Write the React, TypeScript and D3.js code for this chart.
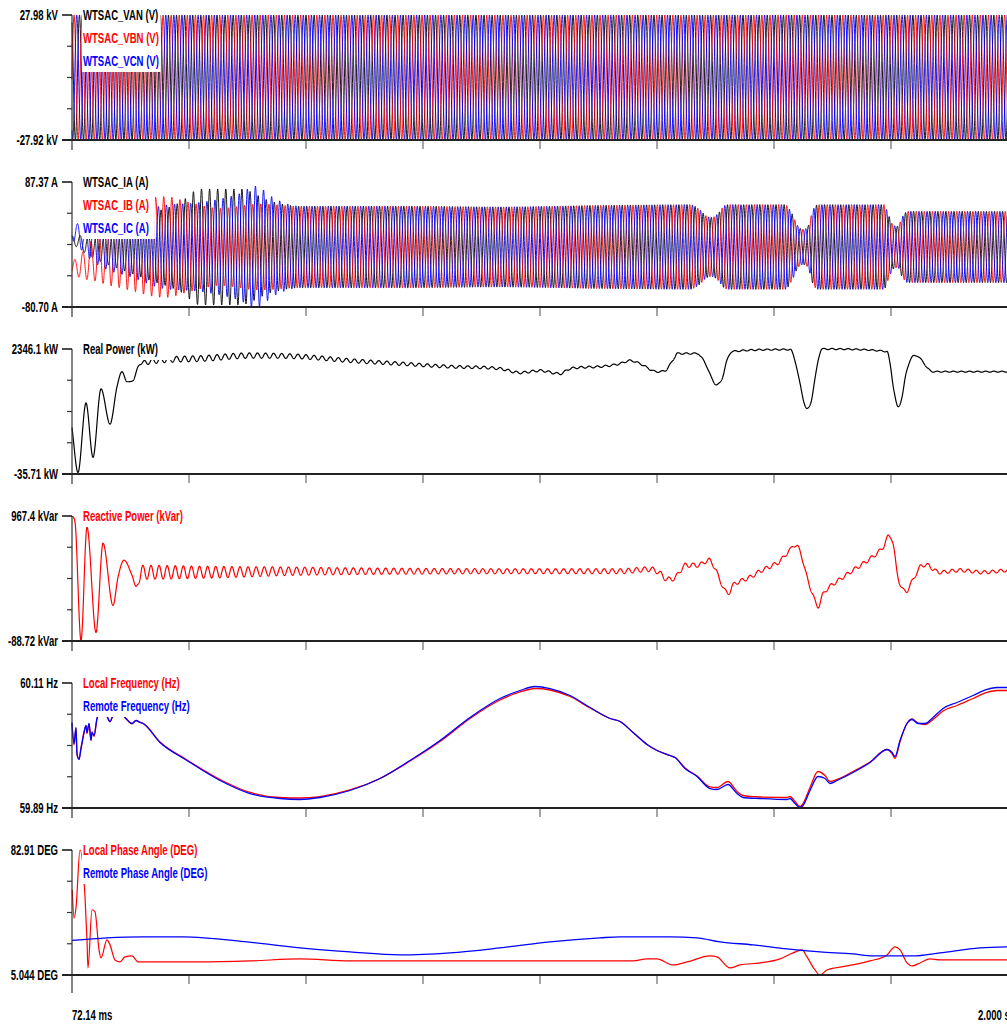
import React from 'react';
import * as d3 from 'd3';

type P = [number, number];

// ---------- time axis ----------
const T_START_MS = 72.14;
const T_END_MS = 2000;
const TIME_DIVISIONS = 8;
const TIME_LABELS = ['72.14 ms', '2.000 s'];
const NOMINAL_HZ = 60;

// ---------- y ranges & labels ----------
const Y_MAX = [27.98, 87.37, 2346.1, 967.4, 60.11, 82.91];
const Y_MIN = [-27.92, -80.7, -35.71, -88.72, 59.89, 5.044];
const Y_MAX_LABELS = ['27.98 kV', '87.37 A', '2346.1 kW', '967.4 kVar', '60.11 Hz', '82.91 DEG'];
const Y_MIN_LABELS = ['-27.92 kV', '-80.70 A', '-35.71 kW', '-88.72 kVar', '59.89 Hz', '5.044 DEG'];

const LEGEND_NAMES = [
  ['WTSAC_VAN (V)', 'WTSAC_VBN (V)', 'WTSAC_VCN (V)'],
  ['WTSAC_IA (A)', 'WTSAC_IB (A)', 'WTSAC_IC (A)'],
  ['Real Power (kW)'],
  ['Reactive Power (kVar)'],
  ['Local Frequency (Hz)', 'Remote Frequency (Hz)'],
  ['Local Phase Angle (DEG)', 'Remote Phase Angle (DEG)'],
];

// ---------- voltages (kV) ----------
const V_PHASE_DEG = [0, -120, 120];
const V_CENTER_KV = 0.03;
const V_AMPLITUDE_KV: P[] = [[72.14, 27.95], [2000, 27.95]];

// ---------- currents (A): amplitude envelopes (ms, A) and DC offsets ----------
const I_PHASE_DEG = [-30, -150, 90];
const IA_AMP: P[] = [[72.1, 5], [109.2, 15], [171, 30], [232.8, 45], [294.6, 60], [335.8, 78], [418.2, 78], [480, 62], [541.8, 55]];
const IB_AMP: P[] = [[72.1, 8], [109.2, 25], [150.4, 45], [212.2, 62], [263.7, 68], [315.2, 60], [377, 52], [459.4, 58], [541.8, 55]];
const IC_AMP: P[] = [[72.1, 10], [109.2, 25], [191.6, 40], [253.4, 55], [335.8, 60], [418.2, 72], [449.1, 82], [490.3, 65], [541.8, 55]];
const I_AMP_TAIL: P[] = [[582.9, 55], [747.7, 55], [953.7, 54], [1159.7, 56], [1345, 57], [1365.6, 50], [1378, 42], [1390.3, 40], [1402.7, 45], [1415, 55], [1427.4, 57], [1540.7, 57], [1555.1, 45], [1567.5, 28], [1577.8, 24], [1588.1, 28], [1598.4, 50], [1608.7, 57], [1744.6, 57], [1752.9, 45], [1763.2, 30], [1773.5, 28], [1781.7, 40], [1794.1, 48], [1998, 48]];
const IA_DC: P[] = [[72.1, 10], [92.7, 5], [150.4, 0], [2000, 0]];
const IB_DC: P[] = [[72.1, -28], [92.7, -25], [129.8, -12], [171, -3], [212.2, 0], [2000, 0]];
const IC_DC: P[] = [[72.1, 20], [92.7, 14], [129.8, 4], [171, 0], [2000, 0]];

// ---------- real power (ms, kW) + 60 Hz ripple amplitude (ms, kW) ----------
const REAL_POWER: P[] = [[72, 857], [84.5, -7], [101, 1318], [115.4, 281], [131.9, 1587], [150.4, 915], [164.8, 1626], [175.1, 1914], [185.4, 1722], [197.8, 1741], [208.1, 2010], [222.5, 2087], [335.8, 2164], [438.8, 2221], [541.8, 2202], [644.7, 2125], [747.7, 2067], [850.7, 2010], [953.7, 1971], [994.9, 1895], [1036, 1933], [1077.3, 1875], [1097.9, 1971], [1159.7, 2010], [1200.9, 2067], [1221.5, 2125], [1242.1, 2067], [1277.1, 1914], [1293.6, 1933], [1303.9, 2048], [1314.2, 2202], [1318.3, 2260], [1361.5, 2260], [1365.6, 2221], [1378, 2048], [1390.3, 1779], [1400.6, 1664], [1410.9, 1779], [1421.2, 2125], [1431.5, 2298], [1551, 2336], [1561.3, 2125], [1571.6, 1683], [1579.8, 1337], [1586, 1203], [1594.2, 1337], [1602.5, 1779], [1610.7, 2202], [1616.9, 2346], [1750.8, 2298], [1757, 2067], [1765.2, 1549], [1773.5, 1241], [1781.7, 1434], [1790, 1875], [1800.3, 2164], [1810.6, 2221], [1822.9, 2125], [1835.3, 1971], [1845.6, 1914], [1998, 1914]];
const REAL_RIPPLE: P[] = [[72, 0], [208, 0], [222, 45], [340, 55], [450, 50], [600, 40], [800, 30], [1000, 22], [1300, 15], [1600, 12], [2000, 10]];

// ---------- reactive power (ms, kVar) + ripple amplitude ----------
const REACTIVE_POWER: P[] = [[72, 967], [78.3, 917], [90.7, -85], [103, 874], [121.6, -17], [136, 738], [156.6, 212], [166.9, 450], [179.2, 594], [195.7, 467], [204, 373], [216.3, 492], [335.8, 492], [541.8, 501], [747.7, 501], [953.7, 501], [1159.7, 501], [1200.9, 501], [1262.7, 518], [1283.3, 484], [1297.7, 433], [1312.1, 441], [1336.9, 552], [1361.5, 552], [1384.2, 594], [1396.5, 526], [1406.8, 424], [1423.3, 314], [1433.6, 382], [1448, 416], [1468.6, 450], [1489.2, 501], [1516, 552], [1530.4, 586], [1540.7, 636], [1551, 679], [1559.2, 721], [1571.6, 670], [1586, 450], [1596.3, 323], [1608.7, 204], [1619, 306], [1629.3, 357], [1654, 433], [1680.9, 509], [1711.7, 594], [1730.3, 653], [1742.6, 704], [1755, 798], [1763.2, 738], [1771.4, 492], [1781.7, 357], [1790, 331], [1800.3, 399], [1812.7, 492], [1823, 552], [1835.3, 552], [1845.6, 518], [1860, 492], [1901.2, 509], [1948.5, 492], [1998, 509]];
const REACTIVE_RIPPLE: P[] = [[72, 0], [204, 0], [216, 59], [336, 51], [542, 34], [748, 25], [954, 21], [1200, 21], [1400, 17], [1800, 15], [2000, 13]];

// ---------- frequency (Hz) ----------
const FREQ_T = [72.1, 76.3, 80.4, 82.4, 86.6, 90.7, 92.7, 96.9, 101, 103, 107.2, 111.3, 113.3, 117.5, 123.6, 129.8, 142.2, 150.4, 158.6, 171, 183.4, 195.7, 204, 212.2, 218.4,
  253.4, 309, 377, 438.8, 500.6, 541.8, 582.9, 644.7, 706.5, 768.3, 830.1, 891.9, 953.7, 994.9, 1025.8, 1056.7, 1097.9, 1139.1, 1180.3, 1200.9,
  1227.7, 1256.5, 1277.1, 1303.9, 1314.2, 1334.8, 1359.5, 1386.2, 1400.6, 1423.3, 1441.8, 1454.2, 1489.2, 1544.8, 1551, 1561.3, 1571.6, 1577.8, 1592.2, 1608.7, 1623.1, 1633.4, 1647.8, 1680.9, 1715.9, 1750.8, 1761.1, 1767.3, 1777.6, 1792, 1802.3, 1814.7, 1829.1, 1845.6, 1866.2, 1895, 1928, 1956.8, 1977.4, 1998];
const FREQ_REMOTE = [60.0405, 60.0035, 60.0317, 59.9859, 59.9754, 59.9947, 60.0035, 60.0229, 60.0352, 60.0229, 60.0387, 60.0088, 60.0229, 60.0176, 60.0475, 60.0581, 60.0546, 60.0422, 60.0563, 60.0581, 60.0475, 60.0387, 60.044, 60.0405, 60.0387,
  60.0053, 59.9736, 59.9384, 59.9155, 59.9067, 59.905, 59.9085, 59.9208, 59.9419, 59.9736, 60.0088, 60.0493, 60.0827, 60.0968, 60.1038, 60.1003, 60.088, 60.0669, 60.0475, 60.0422,
  60.0229, 60.0018, 59.9912, 59.9824, 59.9789, 59.9595, 59.9454, 59.9243, 59.9226, 59.9314, 59.9155, 59.9085, 59.9067, 59.905, 59.9067, 59.8979, 59.8909, 59.8944, 59.9208, 59.9454, 59.9419, 59.9331, 59.9384, 59.9525, 59.9701, 59.993, 59.9877, 59.9806, 60.0088, 60.0387, 60.0458, 60.0387, 60.0387, 60.0493, 60.0651, 60.0757, 60.088, 60.0986, 60.1021, 60.1021];
const FREQ_LOCAL = [60.039, 60.001, 60.03, 59.984, 59.976, 59.996, 60.005, 60.024, 60.034, 60.021, 60.038, 60.01, 60.024, 60.016, 60.047, 60.058, 60.054, 60.042, 60.056, 60.058, 60.047, 60.038, 60.044, 60.041, 60.039,
  60.0062, 59.9745, 59.9402, 59.9173, 59.9085, 59.9076, 59.9102, 59.9217, 59.9419, 59.9727, 60.007, 60.0475, 60.0801, 60.0942, 60.1003, 60.0977, 60.0862, 60.066, 60.0475, 60.0422,
  60.0229, 60.0018, 59.9912, 59.9824, 59.9789, 59.9604, 59.9463, 59.927, 59.9261, 59.9366, 59.919, 59.912, 59.9094, 59.9085, 59.9102, 59.9014, 59.8926, 59.8979, 59.9261, 59.9542, 59.9472, 59.9366, 59.9402, 59.9542, 59.971, 59.993, 59.9859, 59.9771, 60.007, 60.0387, 60.0466, 60.0396, 60.037, 60.0458, 60.0607, 60.0704, 60.0827, 60.0933, 60.0968, 60.0968];

// ---------- phase angle (ms, DEG) ----------
const PHASE_REMOTE: P[] = [[72.1, 26.62], [144.2, 28.19], [218.4, 28.81], [300.8, 28.81], [432.6, 25.69], [541.8, 21.93], [644.7, 19.43], [747.7, 17.56], [850.7, 18.81], [953.7, 21.93], [1056.7, 25.69], [1159.7, 28.19], [1200.9, 28.81], [1303.9, 28.81], [1359.5, 28.19], [1406.8, 25.69], [1474.8, 23.81], [1544.8, 21.31], [1612.8, 19.43], [1680.9, 18.18], [1721.9, 16.93], [1804.4, 16.93], [1860, 18.81], [1942.4, 21.93], [1998, 22.56]];
const PHASE_LOCAL: P[] = [[72.7, 58.21], [76.3, 40.51], [80.4, 46.95], [88.6, 82.9], [98.9, 53.83], [103, 26.94], [105.1, 9.43], [113.3, 45.7], [119.5, 44.45], [127.8, 20.68], [131.9, 15.68], [144.2, 26.94], [150.4, 23.81], [160.7, 14.43], [171, 13.18], [181.3, 16.3], [195.7, 16.93], [208.1, 13.18], [226.6, 13.18], [335.8, 13.18], [438.8, 13.8], [541.8, 15.05], [644.7, 13.8], [747.7, 13.8], [850.7, 13.8], [953.7, 13.8], [1056.7, 13.8], [1159.7, 13.8], [1200.9, 13.8], [1227.7, 13.8], [1256.5, 15.05], [1277.1, 15.05], [1310, 11.3], [1338.9, 13.18], [1386.2, 16.93], [1400.6, 16.3], [1427.4, 9.43], [1448, 11.3], [1489.2, 12.55], [1530.4, 15.05], [1557.2, 18.81], [1575.7, 20.68], [1586, 16.3], [1602.5, 8.17], [1612.8, 5.05], [1627.2, 8.17], [1668.4, 10.68], [1715.9, 13.8], [1750.8, 17.56], [1767.3, 22.56], [1777.6, 20.68], [1792, 12.55], [1802.3, 10.68], [1818.8, 12.55], [1839.4, 15.05], [1860, 14.43], [1998, 14.43]];

// ---------- styles ----------
const BLACK = '#000000';
const RED = '#ff0000';
const BLUE = '#0000ff';
const LEGEND_COLORS = [[BLACK, RED, BLUE], [BLACK, RED, BLUE], [BLACK], [RED], [RED, BLUE], [RED, BLUE]];
const FONT = "'Liberation Sans', Arial, sans-serif";
const FS = 14.5;
const SX = 0.66;

// monotone cubic interpolation (Fritsch–Carlson)
function monotone(points: P[]) {
  const n = points.length;
  const xs = points.map(p => p[0]);
  const ys = points.map(p => p[1]);
  const d: number[] = [];
  for (let i = 0; i < n - 1; i++) d[i] = (ys[i + 1] - ys[i]) / (xs[i + 1] - xs[i]);
  const m: number[] = new Array(n);
  m[0] = d[0];
  m[n - 1] = d[n - 2];
  for (let i = 1; i < n - 1; i++) m[i] = d[i - 1] * d[i] <= 0 ? 0 : (d[i - 1] + d[i]) / 2;
  for (let i = 0; i < n - 1; i++) {
    if (d[i] === 0) { m[i] = 0; m[i + 1] = 0; continue; }
    const a = m[i] / d[i], b = m[i + 1] / d[i];
    const s = a * a + b * b;
    if (s > 9) { const t = 3 / Math.sqrt(s); m[i] = t * a * d[i]; m[i + 1] = t * b * d[i]; }
  }
  return (x: number) => {
    if (x <= xs[0]) return ys[0];
    if (x >= xs[n - 1]) return ys[n - 1];
    const i = Math.max(0, Math.min(n - 2, d3.bisectRight(xs, x) - 1));
    const h = xs[i + 1] - xs[i];
    const t = (x - xs[i]) / h;
    const t2 = t * t, t3 = t2 * t;
    return (2 * t3 - 3 * t2 + 1) * ys[i] + (t3 - 2 * t2 + t) * h * m[i] + (-2 * t3 + 3 * t2) * ys[i + 1] + (t3 - t2) * h * m[i + 1];
  };
}

export default function App() {
  const W = 1007, H = 1025;
  const X0 = 72, X1 = 1008;
  const x = d3.scaleLinear().domain([T_START_MS, T_END_MS]).range([X0, X1]);
  const grid = d3.range(T_START_MS, T_END_MS + 0.001, 0.4);

  const panels = Y_MAX.map((mx, i) => {
    const top = 15 + i * 167;
    const bottom = top + 125;
    const y = d3.scaleLinear().domain([Y_MIN[i], mx]).range([bottom, top]);
    return { top, bottom, y };
  });

  const mk = (i: number, pts: P[], curve = d3.curveLinear) =>
    d3.line<P>().x(d => x(d[0])).y(d => panels[i].y(d[1])).curve(curve)(pts) || '';

  const wave = (amp: (t: number) => number, dc: (t: number) => number, phaseDeg: number, hz: number): P[] =>
    grid.map(t => [t, dc(t) + amp(t) * Math.sin(2 * Math.PI * hz * t / 1000 + phaseDeg * Math.PI / 180)] as P);

  type S = { d: string; color: string; w: number };
  const series: S[][] = [[], [], [], [], [], []];

  // voltages
  const vAmp = monotone(V_AMPLITUDE_KV);
  V_PHASE_DEG.forEach((ph, k) => {
    series[0].push({ d: mk(0, wave(vAmp, () => V_CENTER_KV, ph, NOMINAL_HZ)), color: LEGEND_COLORS[0][k], w: 0.9 });
  });
  // currents
  const iAmps = [IA_AMP, IB_AMP, IC_AMP].map(a => monotone([...a, ...I_AMP_TAIL]));
  const iDcs = [IA_DC, IB_DC, IC_DC].map(a => monotone(a));
  I_PHASE_DEG.forEach((ph, k) => {
    series[1].push({ d: mk(1, wave(iAmps[k], iDcs[k], ph, NOMINAL_HZ)), color: LEGEND_COLORS[1][k], w: 0.9 });
  });
  // real power
  const rp = monotone(REAL_POWER), rpr = monotone(REAL_RIPPLE);
  series[2].push({ d: mk(2, grid.map(t => [t, rp(t) + rpr(t) * Math.sin(2 * Math.PI * NOMINAL_HZ * t / 1000)] as P)), color: BLACK, w: 1.2 });
  // reactive power
  const qp = monotone(REACTIVE_POWER), qpr = monotone(REACTIVE_RIPPLE);
  series[3].push({ d: mk(3, grid.map(t => [t, qp(t) + qpr(t) * Math.sin(2 * Math.PI * NOMINAL_HZ * t / 1000 + 1)] as P)), color: RED, w: 1.2 });
  // frequency
  series[4].push({ d: mk(4, FREQ_T.map((t, j) => [t, FREQ_LOCAL[j]] as P), d3.curveMonotoneX), color: RED, w: 1.3 });
  series[4].push({ d: mk(4, FREQ_T.map((t, j) => [t, FREQ_REMOTE[j]] as P), d3.curveMonotoneX), color: BLUE, w: 1.3 });
  // phase angle
  series[5].push({ d: mk(5, PHASE_LOCAL, d3.curveMonotoneX), color: RED, w: 1.2 });
  series[5].push({ d: mk(5, PHASE_REMOTE, d3.curveMonotoneX), color: BLUE, w: 1.3 });

  const xTicks = d3.range(TIME_DIVISIONS + 1).map(k => T_START_MS + k * (T_END_MS - T_START_MS) / TIME_DIVISIONS);

  const txt = (s: string, tx: number, ty: number, anchor: string, color: string, key: string) => (
    <text key={key} transform={`translate(${tx},${ty}) scale(${SX},1)`} textAnchor={anchor as any}
      dominantBaseline="central" fontFamily={FONT} fontWeight={700} fontSize={FS} fill={color}>{s}</text>
  );

  return (
    <svg width={W} height={H} style={{ position: 'absolute', left: 0, top: 0, background: '#fff' }}>
      <rect x={0} y={0} width={W} height={H} fill="#fff" />
      {panels.map((p, i) => {
        const names = LEGEND_NAMES[i];
        const maxLen = Math.max(...names.map(n => n.length));
        const boxW = maxLen * FS * 0.6 * SX + 4;
        const isLast = i === panels.length - 1;
        return (
          <g key={i}>
            {series[i].map((s, k) => (
              <path key={k} d={s.d} fill="none" stroke={s.color} strokeWidth={s.w} strokeLinejoin="round" />
            ))}
            <rect x={82} y={p.top - 11} width={boxW} height={(names.length - 1) * 23 + 22} fill="#fff" />
            {names.map((n, k) => txt(n, 83, p.top + k * 23, 'start', LEGEND_COLORS[i][k], `l${k}`))}
            {/* y axis */}
            <line x1={X0} x2={X0} y1={p.top} y2={p.bottom + (isLast ? 18 : 10)} stroke="#333" strokeWidth={1.2} />
            <line x1={62} x2={X0} y1={p.top} y2={p.top} stroke="#111" strokeWidth={1.5} />
            {[1, 2, 3].map(k => (
              <line key={k} x1={67} x2={X0} y1={p.top + k * (p.bottom - p.top) / 4} y2={p.top + k * (p.bottom - p.top) / 4} stroke="#333" strokeWidth={1.2} />
            ))}
            {/* x axis */}
            {xTicks.slice(1).map((t, k) => (
              <line key={k} x1={x(t)} x2={x(t)} y1={p.bottom} y2={p.bottom + 9} stroke="#777" strokeWidth={1.3} />
            ))}
            <line x1={62} x2={W} y1={p.bottom} y2={p.bottom} stroke="#222" strokeWidth={2} />
            {txt(Y_MAX_LABELS[i], 58, p.top, 'end', BLACK, 'ymax')}
            {txt(Y_MIN_LABELS[i], 58, p.bottom, 'end', BLACK, 'ymin')}
          </g>
        );
      })}
      {txt(TIME_LABELS[0], x(T_START_MS), 1015, 'start', BLACK, 't0')}
      {txt(TIME_LABELS[1], 978, 1015, 'start', BLACK, 't1')}
    </svg>
  );
}
